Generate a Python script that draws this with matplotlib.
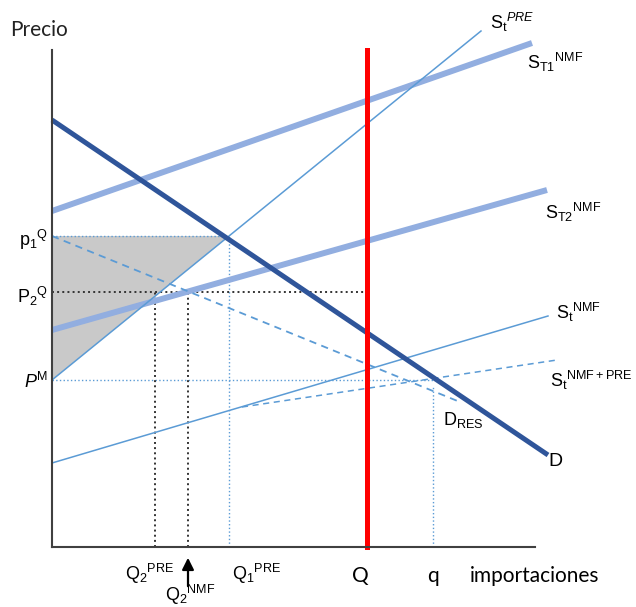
import matplotlib
matplotlib.use("Agg")
import matplotlib.pyplot as plt
from matplotlib.patches import Polygon

plt.rcParams["mathtext.fontset"] = "custom"
plt.rcParams["mathtext.rm"] = "Liberation Sans"
plt.rcParams["mathtext.it"] = "Liberation Sans:italic"

# curvas (x = importaciones, y = precio), extremos de cada recta
d_x, d_y = [0, 496], [427, 92]
st1_x, st1_y = [0, 480], [336, 504]
st2_x, st2_y = [0, 495], [217, 357]
spre_x, spre_y = [0, 429], [167, 516]
snmf_x, snmf_y = [0, 496], [84, 231]
snmfpre_x, snmfpre_y = [190, 505], [140, 187]
dres_x, dres_y = [0, 408], [311, 145]

# niveles de precio y cantidades
p1_q = 311
p2_q = 255
p_m = 167
q1_pre = 177
q2_pre = 103
q2_nmf = 136
q_cuota = 315
q_min = 381
eje_x_max = 483
eje_y_max = 497

AZUL_OSC = "#2f559a"
AZUL_GRUESO = "#92aee0"
AZUL_FINO = "#5b9bd5"

fig = plt.figure(figsize=(6.36, 6.07), dpi=100)
ax = fig.add_axes([0, 0, 1, 1])
ax.set_axis_off()
ax.set_xlim(-52, 584)
ax.set_ylim(-60, 547)

# area sombreada
ax.add_patch(Polygon([(0, p1_q), (q1_pre, p1_q), (0, p_m)],
                     closed=True, facecolor="#c9c9c9", edgecolor="none",
                     zorder=1))

# lineas guia punteadas
ax.plot([0, q1_pre], [p1_q, p1_q], ":", color=AZUL_FINO, lw=1, zorder=2)
ax.plot([q1_pre, q1_pre], [0, p1_q], ":", color=AZUL_FINO, lw=1, zorder=2)
ax.plot([0, q_min], [p_m, p_m], ":", color=AZUL_FINO, lw=1, zorder=2)
ax.plot([q_min, q_min], [0, p_m - 6], ":", color=AZUL_FINO, lw=1, zorder=2)
ax.plot([0, q_cuota], [p2_q, p2_q], ":", color="#333333", lw=1.4, zorder=2)
ax.plot([q2_pre, q2_pre], [0, p2_q], ":", color="#333333", lw=1.4, zorder=2)
ax.plot([q2_nmf, q2_nmf], [0, p2_q], ":", color="#333333", lw=1.4, zorder=2)

# curvas
ax.plot(st1_x, st1_y, color=AZUL_GRUESO, lw=4.3, solid_capstyle="butt", zorder=3)
ax.plot(st2_x, st2_y, color=AZUL_GRUESO, lw=4.3, solid_capstyle="butt", zorder=3)
ax.plot(spre_x, spre_y, color=AZUL_FINO, lw=1.1, zorder=3)
ax.plot(snmf_x, snmf_y, color=AZUL_FINO, lw=1.1, zorder=3)
ax.plot(snmfpre_x, snmfpre_y, color=AZUL_FINO, lw=1.1, zorder=3,
        linestyle=(0, (4, 3)))
ax.plot(dres_x, dres_y, color=AZUL_FINO, lw=1.3, zorder=3,
        linestyle=(0, (4, 3)))
ax.plot(d_x, d_y, color=AZUL_OSC, lw=3.6, solid_capstyle="butt", zorder=4)
ax.plot([q_cuota, q_cuota], [0, eje_y_max], color="#ff0000", lw=3.6, zorder=5)

# ejes
ax.plot([0, 0], [0, eje_y_max], color="#404040", lw=1.5, zorder=6)
ax.plot([0, eje_x_max], [0, 0], color="#404040", lw=1.5, zorder=6)

# flecha Q2 NMF
ax.annotate("", xy=(q2_nmf, -8), xytext=(q2_nmf, -42),
            arrowprops=dict(arrowstyle="-|>,head_width=0.35,head_length=0.7",
                            color="black", lw=1.6))

cal = "Lato"
ari = "Liberation Sans"
ax.text(-42, 517, "Precio", fontsize=15, family=cal, va="center", color="#222222")
ax.text(-4, p1_q - 4, r"p$_1$$^{\rm Q}$", fontsize=13, family=ari, ha="right", va="center")
ax.text(-4, p2_q - 4, r"P$_2$$^{\rm Q}$", fontsize=13, family=ari, ha="right", va="center")
ax.text(-4, p_m - 2, r"$P$$^{\rm M}$", fontsize=13, family=ari, ha="right", va="center")

ax.text(438, 525, r"S$_{\rm t}$$^{PRE}$", fontsize=13, family=ari, va="center")
ax.text(475, 485, r"S$_{\rm T1}$$^{\rm NMF}$", fontsize=13, family=ari, va="center")
ax.text(493, 335, r"S$_{\rm T2}$$^{\rm NMF}$", fontsize=13, family=ari, va="center")
ax.text(504, 235, r"S$_{\rm t}$$^{\rm NMF}$", fontsize=13, family=ari, va="center")
ax.text(498, 167, r"S$_{\rm t}$$^{\rm NMF+PRE}$", fontsize=13, family=ari, va="center")
ax.text(391, 127, r"D$_{\rm RES}$", fontsize=13, family=ari, va="center")
ax.text(496, 85, "D", fontsize=14, family=ari, va="center")

ax.text(73, -27, r"Q$_2$$^{\rm PRE}$", fontsize=13, family=ari, va="center")
ax.text(113, -48, r"Q$_2$$^{\rm NMF}$", fontsize=13, family=ari, va="center")
ax.text(180, -27, r"Q$_1$$^{\rm PRE}$", fontsize=13, family=ari, va="center")
ax.text(q_cuota - 7, -29, "Q", fontsize=15, family=cal, ha="center", va="center")
ax.text(q_min, -29, "q", fontsize=15, family=cal, ha="center", va="center")
ax.text(418, -29, "importaciones", fontsize=15, family=cal, va="center")

fig.savefig("out.png", dpi=100)
